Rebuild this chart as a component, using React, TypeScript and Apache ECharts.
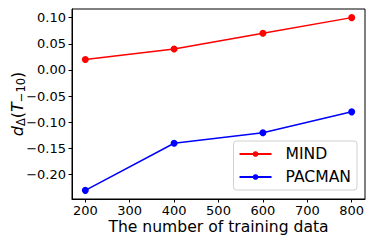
import React, { useEffect, useRef } from "react";
import * as echarts from "echarts";

const xValues = [200, 400, 600, 800];
const mindValues = [0.02, 0.04, 0.07, 0.1];
const pacmanValues = [-0.23, -0.14, -0.12, -0.08];
const seriesNames = ["MIND", "PACMAN"];
const xTicks = [200, 300, 400, 500, 600, 700, 800];
const yTicks = [-0.2, -0.15, -0.1, -0.05, 0, 0.05, 0.1];

export default function App() {
  const ref = useRef<HTMLDivElement>(null);
  useEffect(() => {
    if (!ref.current) return;
    const chart = echarts.init(ref.current, null, { renderer: "svg" });
    const font = "DejaVu Sans";
    chart.setOption({
      animation: false,
      textStyle: { fontFamily: font },
      grid: {
        left: 72,
        right: 9,
        top: 9,
        bottom: 45,
        show: true,
        borderColor: "#000",
        borderWidth: 1,
        containLabel: false,
        outerBoundsMode: "none",
      },
      legend: {
        orient: "vertical",
        right: 17,
        bottom: 54,
        data: seriesNames,
        borderColor: "#d0d0d0",
        borderWidth: 1,
        borderRadius: 3,
        padding: [4, 6, 4, 5],
        itemGap: 5,
        itemWidth: 32,
        itemHeight: 7,
        textStyle: {
          fontFamily: font,
          fontSize: 15.6,
          lineHeight: 18,
          color: "#000",
          padding: [0, 0, 0, 9],
        },
      },
      xAxis: {
        type: "value",
        min: 170,
        max: 830,
        interval: 100,
        name: "The number of training data",
        nameLocation: "middle",
        nameGap: 20,
        nameMoveOverlap: false,
        nameTextStyle: { fontFamily: font, fontSize: 15.6, color: "#000", verticalAlign: "top" },
        axisLine: { onZero: false, lineStyle: { color: "#000" } },
        axisTick: { length: 3.5, lineStyle: { color: "#000" }, customValues: xTicks },
        axisLabel: {
          fontFamily: font,
          fontSize: 13,
          color: "#000",
          margin: 5,
          customValues: xTicks,
        },
        splitLine: { show: false },
      },
      yAxis: {
        type: "value",
        min: -0.2465,
        max: 0.1165,
        name: "{i|d}{s|Δ}{n|(}{i|T}{s|−10}{n|)}",
        nameLocation: "middle",
        nameRotate: 90,
        nameGap: 45,
        nameMoveOverlap: false,
        nameTextStyle: {
          fontFamily: font,
          color: "#000",
          rich: {
            i: { fontFamily: font, fontSize: 16, fontStyle: "italic", color: "#000" },
            n: { fontFamily: font, fontSize: 16, color: "#000" },
            s: { fontFamily: font, fontSize: 11.5, color: "#000", padding: [8, 0, 0, 0] },
          },
        },
        axisLine: { onZero: false, lineStyle: { color: "#000" } },
        axisTick: {
          length: 3.5,
          lineStyle: { color: "#000" },
          customValues: yTicks,
        },
        axisLabel: {
          fontFamily: font,
          fontSize: 13,
          color: "#000",
          margin: 6,
          customValues: yTicks,
          formatter: (v: number) => (v < 0 ? "−" : "") + Math.abs(v).toFixed(2),
        },
        splitLine: { show: false },
      },
      series: [
        {
          name: seriesNames[0],
          type: "line",
          data: xValues.map((x, i) => [x, mindValues[i]]),
          color: "#ff0000",
          lineStyle: { width: 1.5, color: "#ff0000" },
          symbol: "circle",
          symbolSize: 7,
          itemStyle: { color: "#ff0000" },
        },
        {
          name: seriesNames[1],
          type: "line",
          data: xValues.map((x, i) => [x, pacmanValues[i]]),
          color: "#0000ff",
          lineStyle: { width: 1.5, color: "#0000ff" },
          symbol: "circle",
          symbolSize: 7,
          itemStyle: { color: "#0000ff" },
        },
      ],
    });
    return () => chart.dispose();
  }, []);
  return <div ref={ref} style={{ width: 374, height: 244, position: "absolute", left: 0, top: 0 }} />;
}
